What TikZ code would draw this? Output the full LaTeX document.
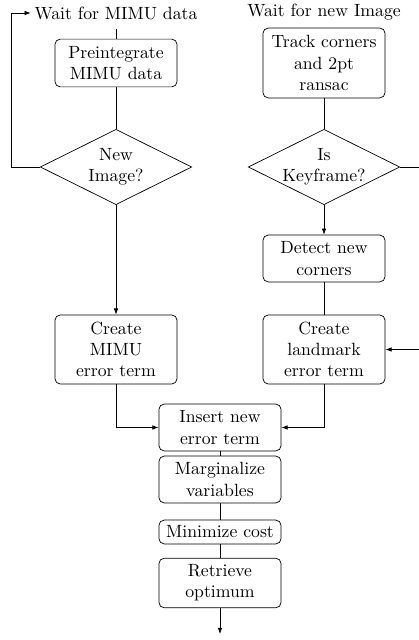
\documentclass[tikz,border=0pt]{standalone}
\usetikzlibrary{arrows.meta}
\begin{document}
\begin{tikzpicture}[x=0.565pt,y=-0.565pt,
  box/.style={draw, rounded corners=3pt, minimum width=69pt, align=center, inner sep=2pt},
  dia/.style={minimum width=85pt, minimum height=42pt, align=center, inner sep=0pt},
  lbl/.style={inner xsep=2pt, inner ysep=5pt},
  arr/.style={-{Latex[length=3.5pt,width=2.6pt]}}]
\useasboundingbox (0,0) rectangle (418,640);
\node[lbl] (wm) at (116,13) {Wait for MIMU data};
\node[box, minimum height=27pt] (pre) at (116,63) {Preintegrate\\MIMU data};
\node[dia] (ni) at (116,167) {New\\Image?};
\node[box, minimum height=39pt] (cm) at (116,349.5) {Create\\MIMU\\error term};
\node[lbl] (wi) at (324,12) {Wait for new Image};
\node[box, minimum height=39.5pt] (tc) at (324,63) {Track corners\\and 2pt\\ransac};
\node[dia] (kf) at (324,167) {Is\\Keyframe?};
\node[box, minimum height=26.5pt] (dc) at (324,258.5) {Detect new\\corners};
\node[box, minimum height=39pt] (cl) at (324,349.5) {Create\\landmark\\error term};
\node[box, minimum height=26.5pt] (ins) at (220,427.5) {Insert new\\error term};
\node[box, minimum height=26.5pt] (mar) at (220,479.5) {Marginalize\\variables};
\node[box, minimum height=13.5pt] (mini) at (220,532) {Minimize cost};
\node[box, minimum height=28pt] (ret) at (220,583) {Retrieve\\optimum};
\coordinate (fin) at (220,634);
\draw (ni.north) -- (ni.east) -- (ni.south) -- (ni.west) -- cycle;
\draw (kf.north) -- (kf.east) -- (kf.south) -- (kf.west) -- cycle;
\draw (wm) -- (pre);
\draw (pre) -- (ni.north);
\draw[arr] (ni.west) -- ++(-29,0) |- (wm.west);
\draw[arr] (ni.south) -- (cm);
\draw[arr] (cm) |- (ins);
\draw (tc) -- (kf.north);
\draw[arr] (kf.south) -- (dc);
\draw (dc) -- (cl);
\draw[arr] (kf.east) -- ++(40,0) |- (cl.east);
\draw[arr] (cl) |- (ins);
\draw (ins) -- (mar);
\draw (mar) -- (mini);
\draw (mini) -- (ret);
\draw[arr] (ret) -- (fin);
\end{tikzpicture}
\end{document}
